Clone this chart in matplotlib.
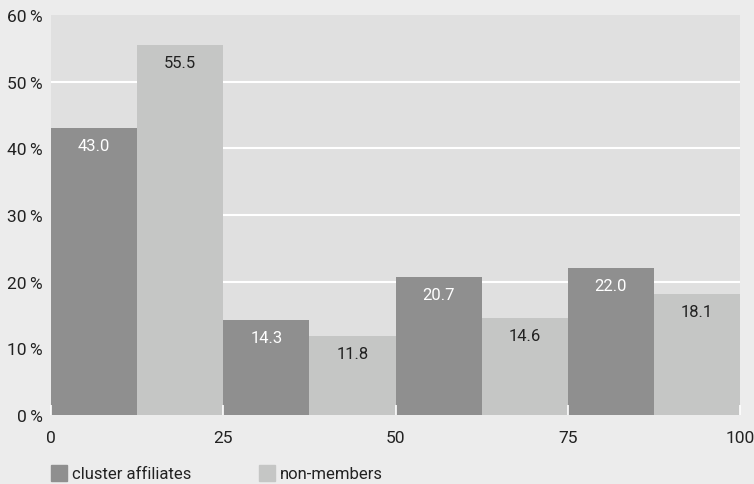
import numpy as np
import matplotlib.pyplot as plt
from matplotlib.patches import Rectangle

# Shares per quartile bin (percent)
bins = [0, 25, 50, 75]
cluster = [43.0, 14.3, 20.7, 22.0]
non_members = [55.5, 11.8, 14.6, 18.1]
x_ticks = [0, 25, 50, 75, 100]
y_ticks = [0, 10, 20, 30, 40, 50, 60]

dark = '#8f8f8f'
light = '#c5c6c5'
txt = '#222222'

plt.rcParams['font.family'] = ['Roboto', 'DejaVu Sans']

fig = plt.figure(figsize=(7.54, 4.85), dpi=100, facecolor='#ececec')
ax = fig.add_axes([51 / 754, 69 / 485, 689 / 754, 400 / 485])
ax.set_facecolor('#e0e0e0')

w = 12.5
x = np.array(bins, dtype=float)
b1 = ax.bar(x, cluster, width=w, align='edge', color=dark, zorder=2)
b2 = ax.bar(x + w, non_members, width=w, align='edge', color=light, zorder=2)

for rect, v in zip(b1, cluster):
    ax.annotate(f'{v:.1f}', (rect.get_x() + w / 2, v), xytext=(0, -12.5),
                textcoords='offset points', ha='center', va='center',
                color='white', fontsize=12, zorder=3)
for rect, v in zip(b2, non_members):
    ax.annotate(f'{v:.1f}', (rect.get_x() + w / 2, v), xytext=(0, -12.5),
                textcoords='offset points', ha='center', va='center',
                color=txt, fontsize=12, zorder=3)

ax.set_xlim(0, 100)
ax.set_ylim(0, 60)
ax.set_yticks(y_ticks)
ax.set_yticklabels([f'{t}\u2009%' for t in y_ticks])
ax.set_xticks(x_ticks)
ax.set_xticklabels([str(t) for t in x_ticks])

for t in y_ticks[1:-1]:
    ax.axhline(t, color='white', lw=1.5, zorder=1)

for s in ax.spines.values():
    s.set_visible(False)
ax.tick_params(axis='y', length=0, pad=6, labelsize=12.5, labelcolor=txt)
ax.tick_params(axis='x', direction='in', length=7, width=1.2, color='white',
               pad=11, labelsize=12.5, labelcolor=txt)
for tl in ax.xaxis.get_ticklines():
    tl.set_zorder(4)
ax.set_axisbelow(False)

# legend squares and labels
fig.add_artist(Rectangle((51 / 754, 3 / 485), 16 / 754, 16 / 485,
                         transform=fig.transFigure, color=dark))
fig.text(72 / 754, 10 / 485, 'cluster affiliates', va='center', ha='left',
         fontsize=12, color=txt)
fig.add_artist(Rectangle((259 / 754, 3 / 485), 16 / 754, 16 / 485,
                         transform=fig.transFigure, color=light))
fig.text(280 / 754, 10 / 485, 'non-members', va='center', ha='left',
         fontsize=12, color=txt)

fig.savefig('out.png', dpi=100, facecolor=fig.get_facecolor())
